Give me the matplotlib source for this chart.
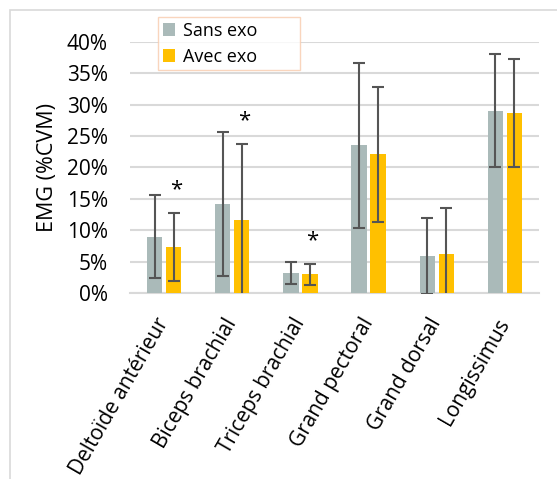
import numpy as np
import matplotlib.pyplot as plt
from matplotlib.patches import Rectangle

muscles = ['Deltoïde antérieur', 'Biceps brachial', 'Triceps brachial',
           'Grand pectoral', 'Grand dorsal', 'Longissimus']
sans_exo = np.array([9.0, 14.2, 3.2, 23.5, 5.9, 29.0]) / 100
sans_err = np.array([6.6, 11.4, 1.8, 13.1, 6.0, 9.0]) / 100
avec_exo = np.array([7.4, 11.6, 3.0, 22.1, 6.25, 28.7]) / 100
avec_err = np.array([5.4, 12.2, 1.7, 10.7, 7.3, 8.55]) / 100
signif = [True, True, True, False, False, False]

plt.rcParams['font.family'] = ['Open Sans', 'DejaVu Sans']

fig = plt.figure(figsize=(5.57, 4.79), dpi=100)
ax = fig.add_axes([0.2334, 0.3877, 0.7343, 0.5253])

x = np.arange(len(muscles))
w = 0.225
off = 0.14
ekw = dict(ecolor='#555555', elinewidth=1.5, capsize=4, capthick=1.5)
ax.bar(x - off, sans_exo, w, color='#AABAB9', label='Sans exo',
       yerr=sans_err, error_kw=ekw, zorder=3)
ax.bar(x + off, avec_exo, w, color='#FFC000', label='Avec exo',
       yerr=avec_err, error_kw=ekw, zorder=3)

# significance stars above the "avec exo" bars
for i in range(len(muscles)):
    if signif[i]:
        ax.text(x[i] + off + 0.03, avec_exo[i] + avec_err[i] + 0.037, '*',
                ha='center', va='center', fontsize=16, color='black')

ax.set_xlim(-0.5, len(muscles) - 0.5)
ax.set_ylim(0, 0.40)
yt = np.arange(0, 0.41, 0.05)
ax.set_yticks(yt)
ax.set_yticklabels([f'{int(round(v * 100))}%' for v in yt])
ax.yaxis.grid(True, color='#D9D9D9', lw=1.5, zorder=0)
ax.tick_params(axis='y', length=0, labelsize=15, colors='#000000', pad=16)
ax.tick_params(axis='x', length=0, labelsize=15, colors='#000000', pad=19)
ax.set_xticks(x)
ax.set_xticklabels(muscles, rotation=60, ha='right', va='center',
                   rotation_mode='anchor')
for s in ['top', 'right', 'left']:
    ax.spines[s].set_visible(False)
ax.spines['bottom'].set_color('#D9D9D9')
ax.spines['bottom'].set_linewidth(1.5)
ax.set_ylabel('EMG (%CVM)', fontsize=15.5)
ax.yaxis.set_label_coords(-0.177, 0.5)

leg = ax.legend(loc='upper left', bbox_to_anchor=(0.0685, 0.5, 0.347, 0.598),
                mode='expand', fontsize=13,
                frameon=True, fancybox=False, edgecolor='#F8CBAD',
                handlelength=0.7, handleheight=0.7, handletextpad=0.45,
                borderpad=0.25, labelspacing=0.45, borderaxespad=0)
leg.get_frame().set_linewidth(1.0)

fig.patches.append(Rectangle((10 / 557, -0.1), 1.2, 1 - 10 / 479 + 0.1,
                             transform=fig.transFigure, fill=False,
                             edgecolor='#D9D9D9', lw=1.2))

fig.savefig('out.png', dpi=100)
